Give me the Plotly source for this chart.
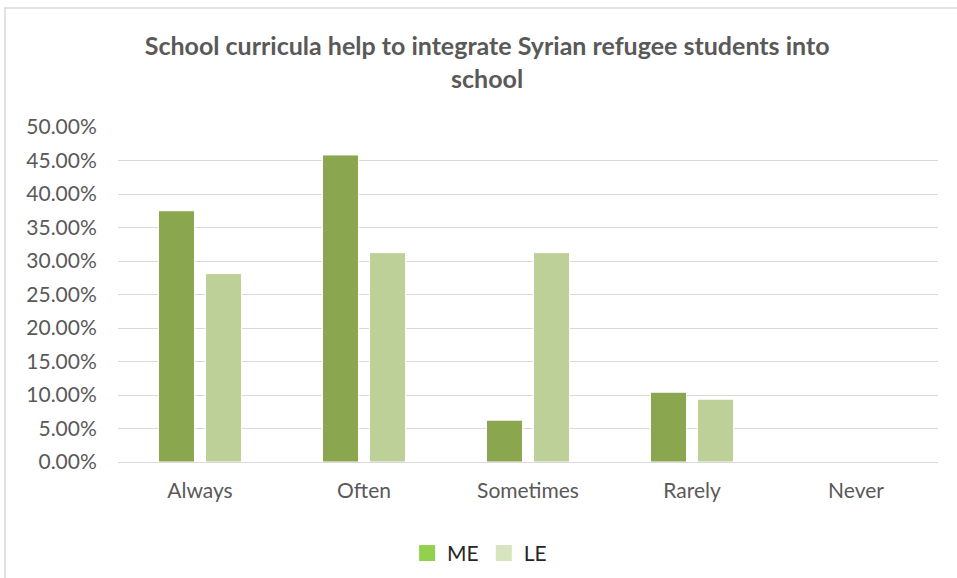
import plotly.graph_objects as go

categories = ["Always", "Often", "Sometimes", "Rarely", "Never"]
me_values = [0.375, 0.4583, 0.0625, 0.1042, 0.0]
le_values = [0.28125, 0.3125, 0.3125, 0.09375, 0.0]
tick_values = [i * 0.05 for i in range(11)]
tick_labels = [f"{v * 100:.2f}%" for v in tick_values]

ME_BAR = "#8aa64f"
LE_BAR = "#bcd097"
ME_KEY = "#92d050"
LE_KEY = "#d7e4bd"
TEXT = "#595959"
GRID = "#d9d9d9"
FONT = "Lato, Carlito, Calibri, sans-serif"

fig = go.Figure()
fig.add_trace(go.Bar(x=categories, y=me_values, name="ME", marker=dict(color=ME_BAR, line=dict(color="white", width=1)), showlegend=False))
fig.add_trace(go.Bar(x=categories, y=le_values, name="LE", marker=dict(color=LE_BAR, line=dict(color="white", width=1)), showlegend=False))

# legend keys
fig.add_trace(go.Scatter(x=[None], y=[None], mode="markers", name="ME",
                         marker=dict(symbol="square", size=22, color=ME_KEY)))
fig.add_trace(go.Scatter(x=[None], y=[None], mode="markers", name="LE",
                         marker=dict(symbol="square", size=22, color=LE_KEY)))

fig.update_layout(
    width=957, height=578,
    margin=dict(l=118, r=19, t=127, b=116, autoexpand=False),
    paper_bgcolor="white", plot_bgcolor="white",
    font=dict(family=FONT, color=TEXT, size=21),
    title=dict(text="<b>School curricula help to integrate Syrian refugee students into<br>school</b>",
               x=0.509, xanchor="center", y=0.904, yanchor="middle",
               font=dict(family=FONT, size=25, color=TEXT)),
    barmode="group", bargap=0.427, bargroupgap=0.234,
    legend=dict(orientation="h", x=0.441, xanchor="center",
                yref="container", y=0.078, yanchor="top",
                font=dict(family=FONT, size=21, color="#262626"), itemwidth=30),
    xaxis=dict(showline=True, linecolor=GRID, linewidth=1, ticks="outside", ticklen=10,
               tickcolor="white", tickfont=dict(size=21, color=TEXT)),
    yaxis=dict(range=[0, 0.5], tickvals=tick_values, ticktext=tick_labels,
               showgrid=True, gridcolor=GRID, gridwidth=1, zeroline=False,
               ticks="outside", ticklen=16, tickcolor="white",
               tickfont=dict(size=21, color=TEXT)),
    shapes=[dict(type="rect", xref="paper", yref="paper",
                 x0=(5 - 118) / 820, x1=(962 - 118) / 820,
                 y0=(462 - 585) / 335, y1=(462 - 8) / 335,
                 line=dict(color=GRID, width=1.5), fillcolor="rgba(0,0,0,0)", layer="below")],
)

fig.write_html("out.html")
